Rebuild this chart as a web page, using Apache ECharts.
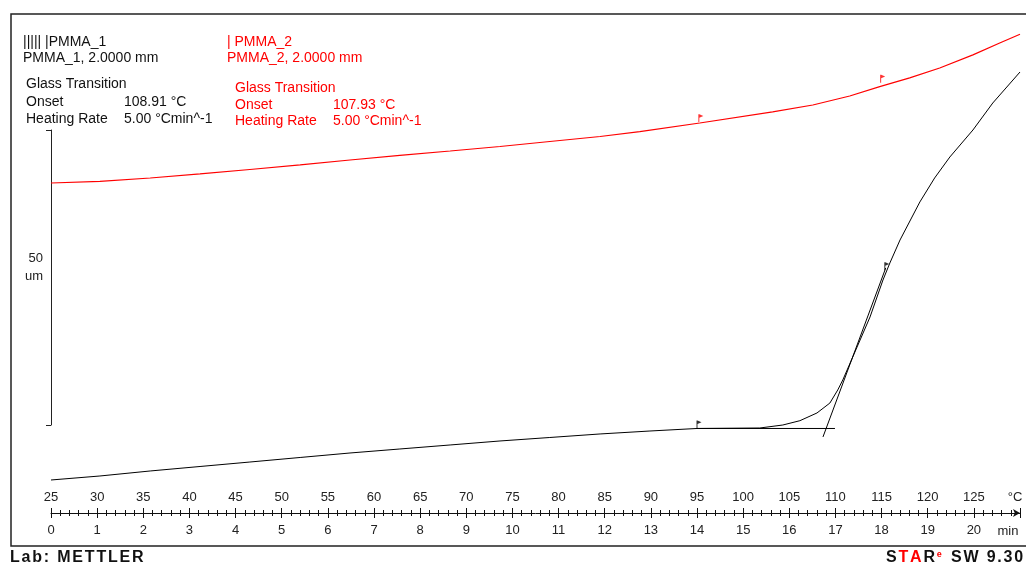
<!DOCTYPE html>
<html>
<head>
<meta charset="utf-8">
<script src="https://cdn.jsdelivr.net/npm/echarts@6/dist/echarts.min.js"></script>
<style>html,body{margin:0;padding:0;background:#fff;}#c{width:1026px;height:566px;}</style>
</head>
<body>
<div id="c"></div>
<script>
// ---- data (time in min, displacement in um) ----
var blackTime = [0, 1.06, 2.15, 3.23, 4.31, 5.40, 6.48, 7.56, 8.65, 9.73, 10.81, 11.90, 12.98, 14.00, 15.36, 15.86, 16.23, 16.60, 16.88, 17.05, 17.16, 17.46, 17.75, 18.03, 18.18, 18.40, 18.83, 19.15, 19.48, 19.98, 20.41, 21.00];
var blackUm   = [-9.40, -8.72, -7.87, -7.11, -6.35, -5.58, -4.82, -4.14, -3.46, -2.78, -2.19, -1.59, -1.09, -0.66, -0.58, -0.07, 0.66, 1.97, 3.66, 5.87, 7.57, 13.00, 18.26, 24.53, 27.42, 31.32, 37.77, 41.84, 45.40, 49.98, 54.56, 59.82];
var redTime = [0, 1.06, 2.15, 3.23, 4.31, 5.40, 6.48, 7.56, 8.65, 9.73, 10.81, 11.90, 12.76, 14.06, 15.64, 16.51, 17.31, 17.96, 18.61, 19.26, 19.98, 20.56, 21.00];
var redUm   = [40.99, 41.25, 41.84, 42.52, 43.28, 44.05, 44.89, 45.66, 46.42, 47.18, 48.03, 48.88, 49.69, 51.17, 53.04, 54.22, 55.75, 57.33, 58.83, 60.50, 62.73, 64.74, 66.22];
var baseTanTime = [14.00, 16.99];
var baseTanUm   = [-0.66, -0.66];
var inflTanTime = [16.73, 18.09];
var inflTanUm   = [-2.10, 26.57];
var blackFlagTime = [14.00, 18.07];
var blackFlagUm   = [-0.66, 26.2];
var redFlagTime = [14.04, 17.98];
var redFlagUm   = [51.3, 58.0];
var timeRange = [0, 21];
var tempRange = [25, 130];
var scaleBarRange = [0, 50];
var legend1 = ['||||| |PMMA_1', 'PMMA_1, 2.0000 mm', 'Glass Transition', 'Onset', '108.91 °C', 'Heating Rate', '5.00 °Cmin^-1'];
var legend2 = ['| PMMA_2', 'PMMA_2, 2.0000 mm', 'Glass Transition', 'Onset', '107.93 °C', 'Heating Rate', '5.00 °Cmin^-1'];

function zip(a, b) { return a.map(function (v, i) { return [v, b[i]]; }); }

var FONT = '"Liberation Sans", Arial, sans-serif';
var RED = '#ff0000';
var flagPath = 'path://M0,0 L0,10 L1.2,10 L1.2,4.5 L6,2.2 L1.2,0 Z';

function txt(x, y, s, color, extra) {
  var st = { text: s, fill: color, font: '14px ' + FONT, textVerticalAlign: 'middle' };
  if (extra) for (var k in extra) st[k] = extra[k];
  return { type: 'text', x: x, y: y, style: st, silent: true };
}
function spaced(s, styleName) {
  return s.split('').map(function (ch) { return '{' + styleName + '|' + ch + '}'; }).join('');
}

var BOLD = 'bold 16px "Liberation Sans", Arial, sans-serif';

var chart = echarts.init(document.getElementById('c'), null, { renderer: 'canvas' });
chart.setOption({
  animation: false,
  backgroundColor: '#fff',
  grid: [
    { left: 51, right: 6, top: 12, bottom: 53 },
    { left: 51, width: 5, top: 130, bottom: 141 }
  ],
  xAxis: [
    { type: 'value', gridIndex: 0, min: timeRange[0], max: timeRange[1], interval: 1, position: 'bottom',
      axisLine: { show: true, onZero: false, lineStyle: { color: '#111', width: 1 }, symbol: ['none', 'arrow'], symbolSize: [6, 7] },
      axisTick: { show: true, length: 5, lineStyle: { color: '#111' } },
      minorTick: { show: true, splitNumber: 5, length: 3, lineStyle: { color: '#111' } },
      axisLabel: { margin: 11, color: '#222', fontSize: 13, fontFamily: FONT, showMaxLabel: false },
      splitLine: { show: false }, minorSplitLine: { show: false } },
    { type: 'value', gridIndex: 0, min: tempRange[0], max: tempRange[1], interval: 5, position: 'bottom',
      axisLine: { show: false, onZero: false },
      axisTick: { show: true, inside: true, length: 5, lineStyle: { color: '#111' } },
      minorTick: { show: true, splitNumber: 5, length: 3, lineStyle: { color: '#111' } },
      axisLabel: { inside: true, margin: 9, color: '#222', fontSize: 13, fontFamily: FONT, showMaxLabel: false },
      splitLine: { show: false } },
    { type: 'value', gridIndex: 1, show: false, min: 0, max: 1 }
  ],
  yAxis: [
    { type: 'value', gridIndex: 0, min: -15, max: 70, show: false, splitLine: { show: false } },
    { type: 'value', gridIndex: 1, min: scaleBarRange[0], max: scaleBarRange[1], interval: 50, position: 'left',
      axisLine: { show: true, onZero: false, lineStyle: { color: '#222', width: 1 } },
      axisTick: { show: true, length: 5, lineStyle: { color: '#222' } },
      axisLabel: { show: false }, splitLine: { show: false } }
  ],
  series: [
    { type: 'line', xAxisIndex: 0, yAxisIndex: 0, data: zip(blackTime, blackUm), showSymbol: false, symbol: 'none',
      lineStyle: { color: '#000', width: 1 }, silent: true },
    { type: 'line', xAxisIndex: 0, yAxisIndex: 0, data: zip(redTime, redUm), showSymbol: false, symbol: 'none',
      lineStyle: { color: RED, width: 1.2 }, silent: true },
    { type: 'line', xAxisIndex: 0, yAxisIndex: 0, data: zip(baseTanTime, baseTanUm), showSymbol: false, symbol: 'none',
      lineStyle: { color: '#000', width: 1 }, silent: true },
    { type: 'line', xAxisIndex: 0, yAxisIndex: 0, data: zip(inflTanTime, inflTanUm), showSymbol: false, symbol: 'none',
      lineStyle: { color: '#000', width: 1 }, silent: true },
    { type: 'scatter', xAxisIndex: 0, yAxisIndex: 0, data: zip(blackFlagTime, blackFlagUm), symbol: flagPath,
      symbolSize: [5, 8], symbolOffset: [2, -4], itemStyle: { color: '#000' }, silent: true },
    { type: 'scatter', xAxisIndex: 0, yAxisIndex: 0, data: zip(redFlagTime, redFlagUm), symbol: flagPath,
      symbolSize: [5, 8], symbolOffset: [2, -4], itemStyle: { color: RED }, silent: true }
  ],
  graphic: [
    { type: 'rect', shape: { x: 11, y: 14, width: 1040, height: 532 }, style: { fill: 'none', stroke: '#222', lineWidth: 1.5 }, silent: true, z: -1 },
    txt(23, 42, legend1[0], '#111'),
    txt(23, 58, legend1[1], '#111'),
    txt(26, 84, legend1[2], '#111'),
    txt(26, 102, legend1[3], '#111'),
    txt(124, 102, legend1[4], '#111'),
    txt(26, 119, legend1[5], '#111'),
    txt(124, 119, legend1[6], '#111'),
    txt(227, 42, legend2[0], RED),
    txt(227, 58, legend2[1], RED),
    txt(235, 88, legend2[2], RED),
    txt(235, 105, legend2[3], RED),
    txt(333, 105, legend2[4], RED),
    txt(235, 121, legend2[5], RED),
    txt(333, 121, legend2[6], RED),
    txt(43, 258, '50', '#222', { textAlign: 'right', font: '13px ' + FONT }),
    txt(43, 276, 'um', '#222', { textAlign: 'right', font: '13px ' + FONT }),
    txt(1015, 497, '°C', '#222', { textAlign: 'center', font: '13px ' + FONT }),
    txt(1008, 531, 'min', '#222', { textAlign: 'center', font: '13px ' + FONT }),
    { type: 'text', x: 10, y: 558, silent: true,
      style: { text: spaced('Lab: METTLER', 'c'), textVerticalAlign: 'middle',
        rich: { c: { fill: '#111', font: BOLD, padding: [0, 1.8, 0, 0] } } } },
    { type: 'text', x: 1025, y: 558, silent: true,
      style: { text: spaced('S', 'k') + spaced('TA', 'r') + spaced('R', 'k') + '{e|e}' + spaced(' SW 9.30', 'k'),
        textAlign: 'right', textVerticalAlign: 'middle',
        rich: {
          k: { fill: '#111', font: BOLD, padding: [0, 1.8, 0, 0] },
          r: { fill: RED, font: BOLD, padding: [0, 1.8, 0, 0] },
          e: { fill: RED, font: 'bold 9px "Liberation Sans", Arial, sans-serif', verticalAlign: 'top', padding: [0, 3, 7, 0] }
        } } }
  ]
});
</script>
</body>
</html>
